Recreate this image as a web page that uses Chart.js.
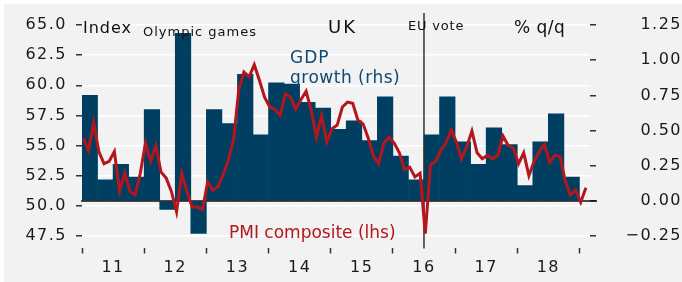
<!DOCTYPE html>
<html>
<head>
<meta charset="utf-8">
<script src="https://cdn.jsdelivr.net/npm/chart.js@4.4.1/dist/chart.umd.min.js"></script>
<style>
  html, body { margin: 0; padding: 0; background: #fff; }
  #wrap { position: absolute; left: 4px; top: 4px; width: 678px; height: 278px; background: #f2f2f2; }
</style>
</head>
<body>
<div id="wrap"><canvas id="ukChart" width="678" height="278"></canvas></div>
<script>
// GDP growth, % q/q (rhs)
const gdpQuarters = [
  "2011Q1", "2011Q2", "2011Q3", "2011Q4", "2012Q1", "2012Q2", "2012Q3", "2012Q4",
  "2013Q1", "2013Q2", "2013Q3", "2013Q4", "2014Q1", "2014Q2", "2014Q3", "2014Q4",
  "2015Q1", "2015Q2", "2015Q3", "2015Q4", "2016Q1", "2016Q2", "2016Q3", "2016Q4",
  "2017Q1", "2017Q2", "2017Q3", "2017Q4", "2018Q1", "2018Q2", "2018Q3", "2018Q4"
];
const gdpGrowth = [
  0.75, 0.15, 0.26, 0.17, 0.65, -0.06, 1.19, -0.23,
  0.65, 0.55, 0.90, 0.47, 0.84, 0.83, 0.70, 0.66,
  0.51, 0.57, 0.43, 0.74, 0.32, 0.15, 0.47, 0.74,
  0.42, 0.26, 0.52, 0.40, 0.11, 0.42, 0.62, 0.17
];

// PMI composite, index (lhs), monthly from Jan 2011
const pmiStartYear = 2011;
const pmiComposite = [
  55.6, 54.6, 56.9, 54.5, 53.5, 53.7, 54.5, 51.2, 52.7, 51.2, 50.9, 52.7,
  55.2, 53.7, 55.0, 52.8, 52.3, 51.2, 49.5, 52.7, 51.2, 49.9, 49.9, 49.7,
  52.0, 51.3, 51.6, 52.6, 53.8, 55.5, 59.6, 61.1, 60.7, 61.7, 60.4, 59.0,
  58.2, 58.0, 57.5, 59.3, 59.0, 58.0, 58.8, 59.5, 57.9, 55.7, 57.5, 55.3,
  56.4, 56.7, 58.2, 58.6, 58.5, 57.1, 56.8, 55.6, 54.1, 53.5, 55.2, 55.7,
  55.2, 54.4, 53.0, 53.2, 52.4, 52.7, 47.7, 53.4, 53.7, 54.6, 55.2, 56.3,
  55.3, 53.9, 54.9, 56.2, 54.4, 53.9, 54.2, 53.9, 54.2, 55.8, 55.0, 54.8,
  53.5, 54.4, 52.5, 53.7, 54.5, 55.1, 53.6, 54.2, 54.1, 52.1, 50.9, 51.3,
  50.3, 51.5
];

const yearLabels = ["11", "12", "13", "14", "15", "16", "17", "18"];
const lhsTicks = [47.5, 50, 52.5, 55, 57.5, 60, 62.5, 65];
const rhsTicks = [-0.25, 0, 0.25, 0.5, 0.75, 1, 1.25];
const euVote = 2016.5;

const FONT = "'DejaVu Sans', sans-serif";
const navy = "#013f62";
const red = "#b3161d";

function quarterX(q) {
  return +q.slice(0, 4) + (+q.slice(5) - 1) / 4 + 0.125;
}
function monthX(i) {
  return pmiStartYear + i / 12 + 1 / 48;
}

const barPoints = gdpQuarters.map((q, i) => ({ x: quarterX(q), y: gdpGrowth[i] }));
const linePoints = pmiComposite.map((v, i) => ({ x: monthX(i), y: v }));

const xTicks = [];
yearLabels.forEach((lbl, i) => {
  xTicks.push({ value: 2011 + i });
  xTicks.push({ value: 2011 + i + 0.5, label: lbl });
});
xTicks.push({ value: 2011 + yearLabels.length });

const decorations = {
  id: "decorations",
  beforeLayout(chart) {
    chart.ctx.letterSpacing = "1.5px";
  },
  beforeDraw(chart) {
    chart.ctx.letterSpacing = "1.5px";
  },
  afterDatasetDraw(chart, args) {
    if (args.meta.type !== "bar") return;
    const ctx = chart.ctx;
    const area = chart.chartArea;
    const x = chart.scales.x;
    const yR = chart.scales.yR;
    ctx.save();
    // zero line of the rhs axis
    const y0 = yR.getPixelForValue(0);
    ctx.strokeStyle = "#111";
    ctx.lineWidth = 1.5;
    ctx.beginPath();
    ctx.moveTo(area.left - 1, y0);
    ctx.lineTo(area.right + 7, y0);
    ctx.stroke();
    // EU vote marker
    const xe = x.getPixelForValue(euVote);
    ctx.strokeStyle = "#333";
    ctx.lineWidth = 1.5;
    ctx.beginPath();
    ctx.moveTo(xe, area.top - 12);
    ctx.lineTo(xe, area.bottom + 1);
    ctx.stroke();
    ctx.restore();
  },
  afterDraw(chart) {
    const ctx = chart.ctx;
    ctx.save();
    ctx.textBaseline = "alphabetic";
    ctx.textAlign = "left";
    const put = (txt, x, y, size, color, spacing) => {
      ctx.font = size + "px " + FONT;
      ctx.fillStyle = color;
      ctx.letterSpacing = spacing + "px";
      ctx.fillText(txt, x, y);
    };
    put("Index", 79, 29, 16, "#111", 1);
    put("Olympic games", 139, 32, 13, "#111", 1);
    put("UK", 324, 29, 18, "#111", 2);
    put("EU vote", 404, 26, 13, "#111", 0.8);
    put("% q/q", 510, 29, 17, "#111", 0.5);
    put("GDP", 286, 59, 17, "#0f4a72", 1);
    put("growth (rhs)", 286, 79, 17, "#0f4a72", 0.5);
    put("PMI composite (lhs)", 225, 234, 17, red, 0);
    ctx.restore();
  }
};

const tickFont = { family: FONT, size: 16 };

new Chart(document.getElementById("ukChart"), {
  type: "bar",
  data: {
    datasets: [
      {
        type: "line",
        label: "PMI composite (lhs)",
        data: linePoints,
        yAxisID: "yL",
        borderColor: red,
        borderWidth: 3,
        pointRadius: 0,
        tension: 0,
        order: 0
      },
      {
        type: "bar",
        label: "GDP growth (rhs)",
        data: barPoints,
        yAxisID: "yR",
        backgroundColor: navy,
        barPercentage: 1,
        categoryPercentage: 1,
        order: 1
      }
    ]
  },
  options: {
    responsive: false,
    animation: false,
    devicePixelRatio: 1,
    layout: { padding: { top: 21, left: 0, right: 0, bottom: 0 } },
    plugins: { legend: { display: false }, tooltip: { enabled: false } },
    scales: {
      x: {
        type: "linear",
        offset: false,
        min: 2011,
        max: 2019.17,
        afterBuildTicks: s => { s.ticks = xTicks.map(t => ({ value: t.value })); },
        afterFit: s => { s.height = 34.5; },
        ticks: {
          autoSkip: false,
          maxRotation: 0,
          padding: 5,
          color: "#1a1a1a",
          font: tickFont,
          callback: v => {
            const t = xTicks.find(t => Math.abs(t.value - v) < 1e-6);
            return t && t.label ? t.label : "";
          }
        },
        grid: {
          offset: false,
          drawOnChartArea: false,
          tickLength: 6,
          tickWidth: 1.5,
          tickColor: c => (c.tick && Number.isInteger(c.tick.value) ? "#333" : "rgba(0,0,0,0)")
        },
        border: { display: false }
      },
      yL: {
        type: "linear",
        position: "left",
        min: 46.545,
        max: 65,
        afterBuildTicks: s => { s.ticks = lhsTicks.map(v => ({ value: v })); },
        afterFit: s => { s.width = 78; },
        ticks: {
          padding: 9,
          color: "#1a1a1a",
          font: tickFont,
          callback: v => v.toFixed(1)
        },
        grid: { color: "#ffffff", lineWidth: 1.5, tickColor: "#333", tickLength: 6 },
        border: { display: false }
      },
      yR: {
        type: "linear",
        position: "right",
        min: -0.33,
        max: 1.25,
        afterBuildTicks: s => { s.ticks = rhsTicks.map(v => ({ value: v })); },
        afterFit: s => { s.width = 92; },
        ticks: {
          padding: 10,
          crossAlign: "far",
          color: "#1a1a1a",
          font: tickFont,
          callback: v => (v < 0 ? "\u2212" + Math.abs(v).toFixed(2) : v.toFixed(2))
        },
        grid: { drawOnChartArea: false, tickColor: "#333", tickLength: 6, lineWidth: 1.5 },
        border: { display: false }
      }
    }
  },
  plugins: [decorations]
});
</script>
</body>
</html>
